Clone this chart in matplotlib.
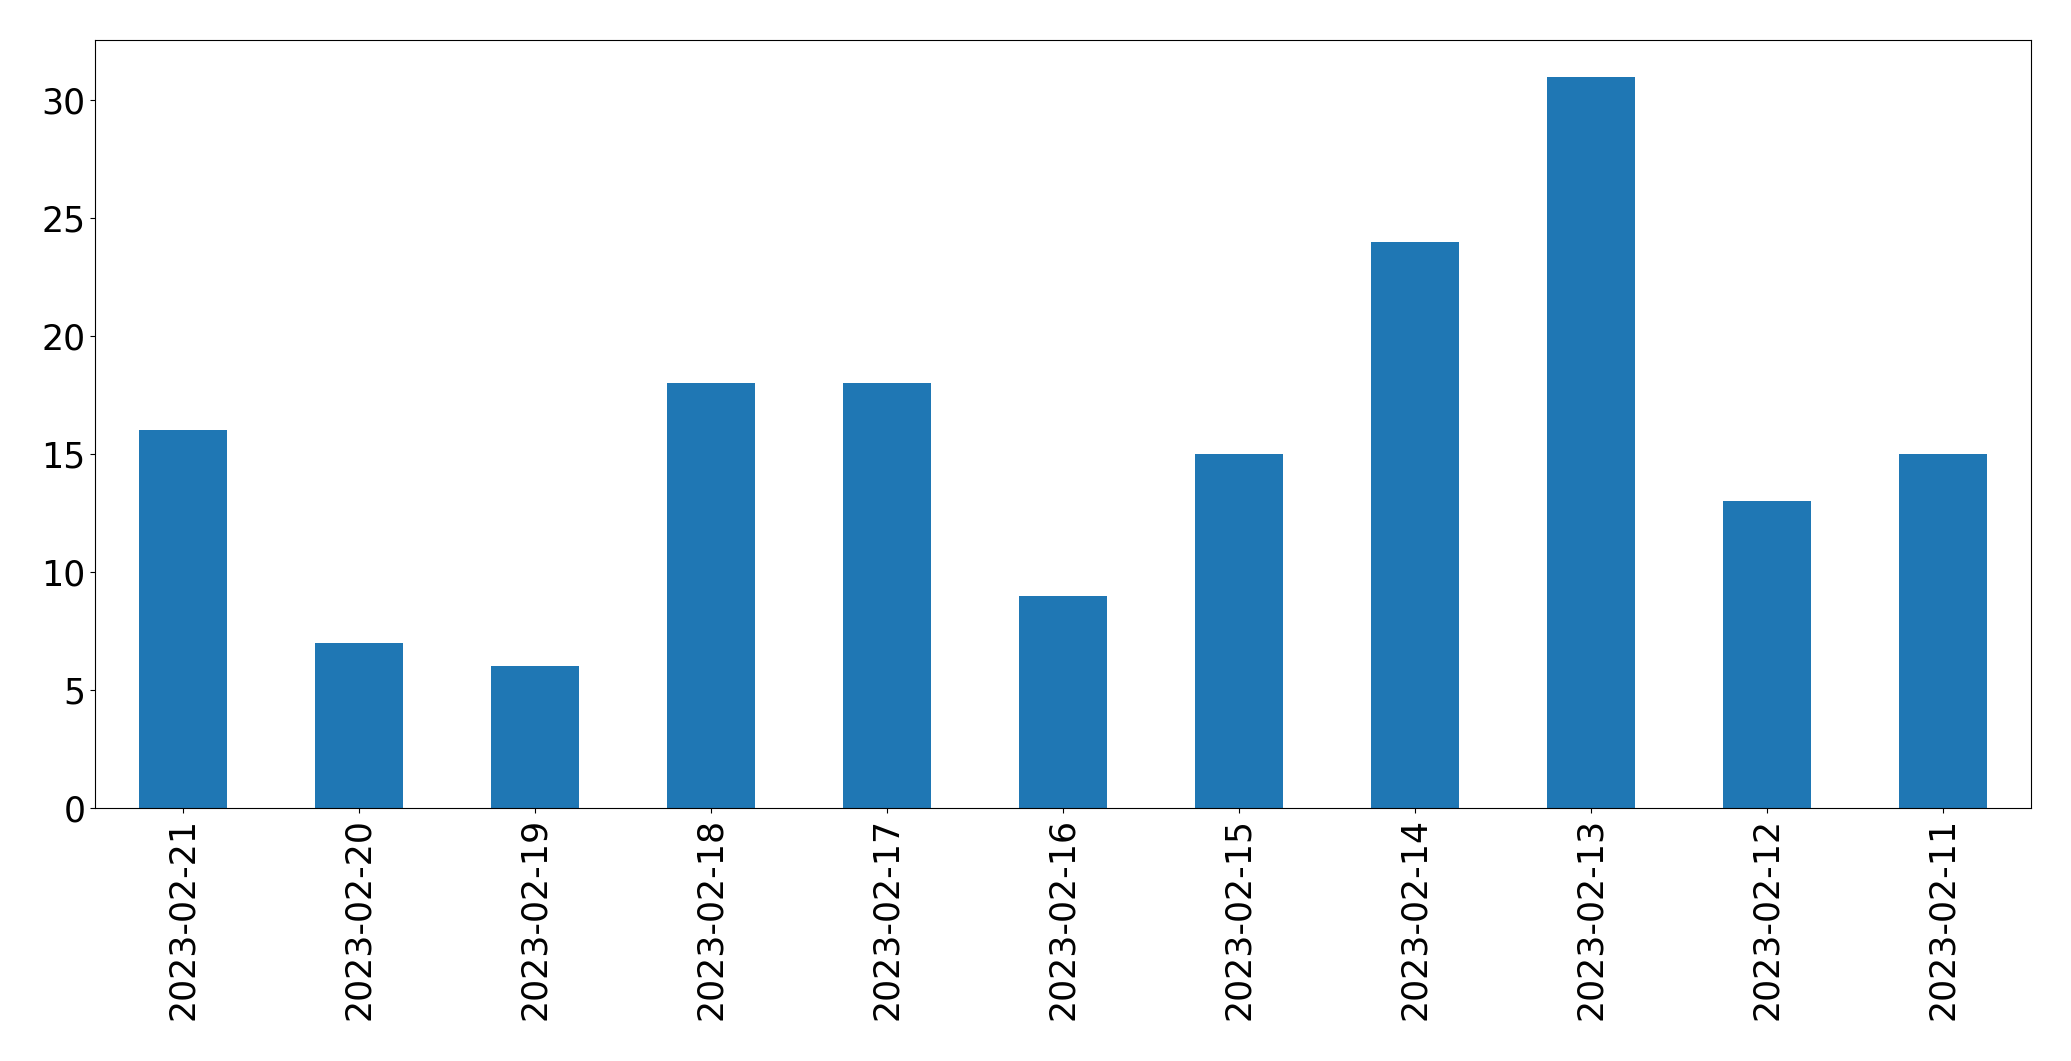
import matplotlib
matplotlib.use("Agg")
import matplotlib.pyplot as plt

dates = ["2023-02-21", "2023-02-20", "2023-02-19", "2023-02-18", "2023-02-17",
         "2023-02-16", "2023-02-15", "2023-02-14", "2023-02-13", "2023-02-12", "2023-02-11"]
counts = [16, 7, 6, 18, 18, 9, 15, 24, 31, 13, 15]

fig = plt.figure(figsize=(20.71, 10.61), dpi=100)
ax = fig.add_axes([95/2071, 1 - 808/1061, (2031-95)/2071, (808-40)/1061])
x = list(range(len(dates)))
ax.bar(x, counts, width=0.5, color="#1f77b4")
ax.set_xlim(-0.5, len(dates) - 0.5)
ax.set_ylim(0, max(counts) * 1.05)
ax.set_xticks(x)
ax.set_xticklabels(dates, rotation=90)
ax.tick_params(labelsize=25)
fig.savefig("out.png", dpi=100)
